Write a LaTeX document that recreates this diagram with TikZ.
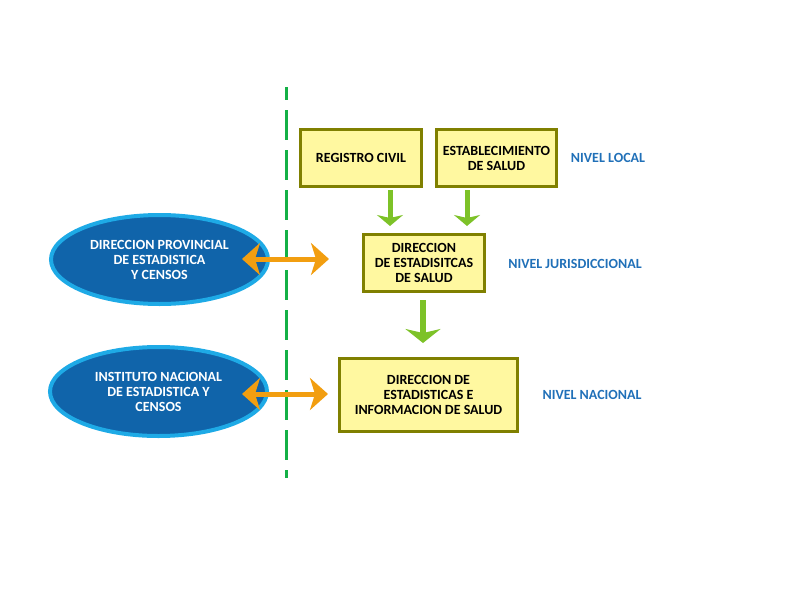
\documentclass[tikz,border=0pt]{standalone}
\usepackage{fontspec}
\setmainfont{Carlito}
\usetikzlibrary{arrows.meta,shapes.geometric}
\definecolor{boxfill}{RGB}{255,248,160}
\definecolor{boxline}{RGB}{128,128,0}
\definecolor{ellfill}{RGB}{16,100,170}
\definecolor{ellline}{RGB}{30,170,230}
\definecolor{orangearr}{RGB}{242,158,16}
\definecolor{greenarr}{RGB}{125,194,40}
\definecolor{dashgreen}{RGB}{20,176,70}
\definecolor{levelblue}{RGB}{32,112,184}
\begin{document}
\begin{tikzpicture}[x=1pt,y=-1pt,
  yellowbox/.style={draw=boxline,fill=boxfill,line width=3pt,rectangle,align=center,inner sep=0pt,
     font=\fontsize{14}{15}\selectfont\bfseries,text=black},
  blueell/.style={draw=ellline,fill=ellfill,line width=4pt,ellipse,align=center,inner sep=0pt,
     minimum width=217pt,minimum height=89pt,font=\fontsize{14}{15}\selectfont\bfseries,text=white},
  levellabel/.style={inner sep=0pt,font=\fontsize{14}{15}\selectfont\bfseries,text=levelblue},
  orangeline/.style={draw=orangearr,line width=5pt,{Stealth[length=18pt,width=32pt,inset=5pt]}-{Stealth[length=18pt,width=32pt,inset=5pt]}},
  greensmall/.style={draw=greenarr,line width=5pt,-{Stealth[length=11pt,width=26pt,inset=3pt]}},
  greenbig/.style={draw=greenarr,line width=6pt,-{Stealth[length=14pt,width=35pt,inset=4pt]}},
]
\useasboundingbox (0,0) rectangle (800,600);

% dashed divider
\coordinate (dtop) at (286,87);
\coordinate (dbot) at (286,478);
\draw[dashgreen,line width=3pt,dash pattern=on 30pt off 10pt,dash phase=17pt] (dtop) -- (dbot);

% boxes
\node[yellowbox,minimum width=121pt,minimum height=57pt] (reg) at (361,158) {REGISTRO CIVIL};
\node[yellowbox,minimum width=120pt,minimum height=57pt] (est) at (496.5,158) {ESTABLECIMIENTO\\DE SALUD};
\node[yellowbox,minimum width=121pt,minimum height=57pt] (dir) at (424,263) {DIRECCION\\DE ESTADISITCAS\\DE SALUD};
\node[yellowbox,minimum width=178pt,minimum height=73pt] (dnac) at (428.5,395) {DIRECCION DE\\ESTADISTICAS E\\INFORMACION DE SALUD};

% ellipses
\node[blueell] (prov) at (159.5,259.5) {DIRECCION PROVINCIAL\\DE ESTADISTICA\\Y CENSOS};
\node[blueell] (inst) at (158.5,391.5) {INSTITUTO NACIONAL\\DE ESTADISTICA Y\\CENSOS};

% level labels
\node[levellabel] (nlocal) at (608,158) {NIVEL LOCAL};
\node[levellabel] (njur) at (575,264) {NIVEL JURISDICCIONAL};
\node[levellabel] (nnac) at (592,395) {NIVEL NACIONAL};

% green arrows
\coordinate (g1s) at (390,190);
\coordinate (g1e) at (390,226);
\coordinate (g2s) at (467,190);
\coordinate (g2e) at (467,226);
\coordinate (g3s) at (423,300);
\coordinate (g3e) at (423,343);
\draw[greensmall] (g1s) -- (g1e);
\draw[greensmall] (g2s) -- (g2e);
\draw[greenbig] (g3s) -- (g3e);

% orange arrows
\coordinate (o1l) at (242,259);
\coordinate (o1r) at (329,259);
\coordinate (o2l) at (242,394);
\coordinate (o2r) at (328,394);
\draw[orangeline] (o1l) -- (o1r);
\draw[orangeline] (o2l) -- (o2r);
\end{tikzpicture}
\end{document}
